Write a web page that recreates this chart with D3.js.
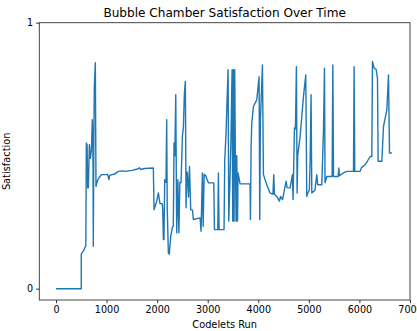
<!DOCTYPE html>
<html>
<head>
<meta charset="utf-8">
<script src="https://cdn.jsdelivr.net/npm/d3@7"></script>
<style>
  body { margin: 0; background: #fff; }
  svg { font-family: "DejaVu Sans", sans-serif; display: block; }
</style>
</head>
<body>
<div id="chart"></div>
<script>
// codelets run (x) and bubble chamber satisfaction (y)
const codelets = [
  0, 500, 500, 541, 574, 590, 600, 615, 627, 640, 660, 680, 700, 718, 730, 738, 748, 758, 778, 785,
  791, 810, 830, 860, 904, 1000, 1020, 1048, 1060, 1100, 1150, 1233, 1300, 1376, 1500, 1628, 1650, 1680, 1750, 1925,
  1939, 1960, 1992, 2024, 2057, 2100, 2110, 2123, 2135, 2150, 2175, 2189, 2200, 2222, 2240, 2269, 2300, 2320, 2334, 2350,
  2368, 2387, 2410, 2430, 2450, 2473, 2499, 2520, 2539, 2558, 2572, 2585, 2598, 2620, 2640, 2664, 2700, 2716, 2849, 2868,
  2895, 2910, 2930, 2960, 3013, 3120, 3133, 3200, 3211, 3225, 3323, 3337, 3363, 3383, 3403, 3416, 3440, 3460, 3482, 3495,
  3508, 3521, 3534, 3548, 3561, 3574, 3590, 3600, 3640, 3838, 3845, 3858, 3871, 3904, 3970, 4016, 4029, 4042, 4082, 4102,
  4135, 4168, 4233, 4290, 4306, 4320, 4366, 4418, 4440, 4480, 4550, 4570, 4629, 4675, 4688, 4715, 4735, 4754, 4768, 4780,
  4827, 4893, 4939, 4959, 4980, 5010, 5025, 5044, 5058, 5120, 5157, 5175, 5256, 5290, 5309, 5320, 5355, 5460, 5474, 5488,
  5580, 5592, 5605, 5684, 5750, 5882, 5895, 5908, 6014, 6040, 6113, 6160, 6212, 6245, 6258, 6291, 6330, 6357, 6370, 6443,
  6476, 6542, 6575, 6595, 6641
];
const satisfaction = [
  0, 0, 0.131, 0.141, 0.156, 0.16, 0.548, 0.54, 0.379, 0.38, 0.541, 0.49, 0.52, 0.635, 0.55, 0.16, 0.55, 0.76, 0.85, 0.6,
  0.385, 0.40, 0.41, 0.42, 0.429, 0.429, 0.43, 0.41, 0.425, 0.429, 0.43, 0.441, 0.443, 0.441, 0.445, 0.451, 0.455, 0.448, 0.452, 0.454,
  0.297, 0.31, 0.329, 0.36, 0.32, 0.32, 0.3, 0.185, 0.185, 0.41, 0.4, 0.635, 0.3, 0.135, 0.13, 0.197, 0.23, 0.235, 0.548, 0.5,
  0.729, 0.21, 0.41, 0.21, 0.4, 0.398, 0.572, 0.61, 0.735, 0.779, 0.304, 0.44, 0.435, 0.345, 0.46, 0.297, 0.295, 0.26, 0.266, 0.216,
  0.435, 0.235, 0.43, 0.425, 0.398, 0.398, 0.222, 0.222, 0.435, 0.222, 0.222, 0.485, 0.585, 0.71, 0.823, 0.254, 0.41, 0.57, 0.823, 0.254,
  0.823, 0.254, 0.823, 0.485, 0.254, 0.5, 0.254, 0.435, 0.394, 0.394, 0.26, 0.535, 0.623, 0.685, 0.71, 0.797, 0.26, 0.635, 0.841, 0.429,
  0.41, 0.391, 0.36, 0.355, 0.429, 0.355, 0.347, 0.329, 0.347, 0.335, 0.404, 0.38, 0.379, 0.429, 0.335, 0.604, 0.6, 0.835, 0.36, 0.5,
  0.572, 0.722, 0.804, 0.347, 0.36, 0.37, 0.48, 0.729, 0.36, 0.37, 0.429, 0.391, 0.391, 0.6, 0.829, 0.398, 0.422, 0.422, 0.841, 0.422,
  0.422, 0.454, 0.425, 0.435, 0.441, 0.441, 0.835, 0.441, 0.441, 0.455, 0.466, 0.48, 0.497, 0.497, 0.854, 0.829, 0.825, 0.791, 0.479, 0.479,
  0.61, 0.672, 0.804, 0.51, 0.51
];
const xTicks = [0, 1000, 2000, 3000, 4000, 5000, 6000, 7000];
const yTicks = [0, 1];

const W = 417, H = 331;
const margin = {top: 22.7, right: 7, bottom: 31, left: 39.3};
const iw = W - margin.left - margin.right;
const ih = H - margin.top - margin.bottom;

const svg = d3.select('#chart').append('svg')
    .attr('width', W)
    .attr('height', H);

const g = svg.append('g')
    .attr('transform', 'translate(' + margin.left + ',' + margin.top + ')');

const x = d3.scaleLinear().domain([-330, 7000]).range([0, iw]);
const y = d3.scaleLinear().domain([-0.0425, 1]).range([ih, 0]);

g.append('clipPath').attr('id', 'clip')
  .append('rect').attr('width', iw).attr('height', ih);

const pts = codelets.map((c, i) => [c, satisfaction[i]]);
const line = d3.line().x(d => x(d[0])).y(d => y(d[1]));

g.append('path')
    .datum(pts)
    .attr('clip-path', 'url(#clip)')
    .attr('fill', 'none')
    .attr('stroke', '#1f77b4')
    .attr('stroke-width', 1.4)
    .attr('stroke-linejoin', 'round')
    .attr('d', line);

// axes
const xAxis = g.append('g')
    .attr('transform', 'translate(0,' + ih + ')')
    .call(d3.axisBottom(x).tickValues(xTicks).tickFormat(d3.format('d')).tickSize(3.2).tickPadding(3).tickSizeOuter(0));
const yAxis = g.append('g')
    .call(d3.axisLeft(y).tickValues(yTicks).tickFormat(d3.format('d')).tickSize(3.2).tickPadding(3).tickSizeOuter(0));

[xAxis, yAxis].forEach(a => {
  a.select('.domain').remove();
  a.selectAll('line').attr('stroke', '#000').attr('stroke-width', 0.8);
  a.selectAll('text').attr('font-family', '"DejaVu Sans", sans-serif').attr('font-size', 9.6).attr('fill', '#000');
});

// spines
g.append('rect')
    .attr('width', iw).attr('height', ih)
    .attr('fill', 'none')
    .attr('stroke', '#333')
    .attr('stroke-width', 0.9);

svg.append('text')
    .attr('x', margin.left + iw / 2).attr('y', 16.5)
    .attr('text-anchor', 'middle')
    .attr('font-size', 12.1)
    .text('Bubble Chamber Satisfaction Over Time');

svg.append('text')
    .attr('x', margin.left + iw / 2).attr('y', 327.5)
    .attr('text-anchor', 'middle')
    .attr('font-size', 9.8)
    .text('Codelets Run');

svg.append('text')
    .attr('transform', 'translate(10,' + (margin.top + ih / 2) + ') rotate(-90)')
    .attr('text-anchor', 'middle')
    .attr('font-size', 9.8)
    .text('Satisfaction');
</script>
</body>
</html>
